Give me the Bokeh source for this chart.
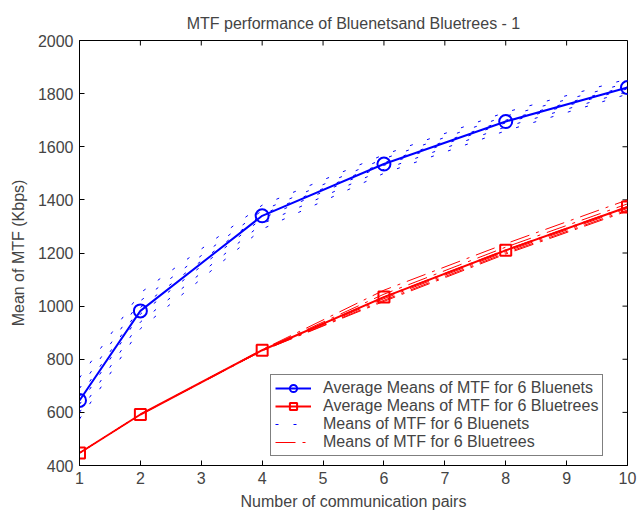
from bokeh.plotting import figure
from bokeh.models import Range1d, Legend, LegendItem, FixedTicker
from bokeh.embed import file_html
from bokeh.resources import INLINE

pairs = [1, 2, 4, 6, 8, 10]

avg_bluenets = [645, 982, 1340, 1535, 1695, 1823]
avg_bluetrees = [447, 592, 834, 1034, 1210, 1373]

bluenets_runs = [
    [730, 1050, 1380, 1570, 1730, 1855],
    [690, 1020, 1360, 1555, 1715, 1840],
    [660, 995, 1345, 1540, 1700, 1828],
    [630, 970, 1330, 1530, 1690, 1818],
    [600, 940, 1310, 1515, 1675, 1808],
    [575, 915, 1290, 1500, 1660, 1798],
]

bluetrees_runs = [
    [447, 592, 836, 1060, 1235, 1400],
    [447, 592, 835, 1045, 1222, 1385],
    [447, 592, 834, 1035, 1212, 1375],
    [447, 592, 833, 1028, 1205, 1368],
    [447, 592, 832, 1022, 1200, 1362],
    [447, 592, 832, 1018, 1196, 1358],
]

x_ticks = [1, 2, 3, 4, 5, 6, 7, 8, 9, 10]
y_ticks = [400, 600, 800, 1000, 1200, 1400, 1600, 1800, 2000]

FONT = "Liberation Sans"
FS = "16px"

x_min, x_max = x_ticks[0], x_ticks[-1]
y_min, y_max = y_ticks[0], y_ticks[-1]

p = figure(width=639, height=512, output_backend="svg", toolbar_location=None,
           x_range=Range1d(x_min, x_max), y_range=Range1d(y_min, y_max),
           min_border_left=79, min_border_right=12, min_border_top=40, min_border_bottom=47,
           title="MTF performance of Bluenetsand Bluetrees - 1")
p.title.text_font = FONT
p.title.text_font_size = FS
p.title.text_font_style = "normal"
p.title.align = "center"
p.title.vertical_align = "top"
p.title.standoff = 13
p.grid.visible = False
p.outline_line_color = "black"
p.outline_line_width = 1
p.background_fill_color = "white"
p.border_fill_color = "white"

for ax in (p.xaxis[0], p.yaxis[0]):
    ax.major_tick_in = 5
    ax.major_tick_out = 0
    ax.minor_tick_in = 0
    ax.minor_tick_out = 0
    ax.major_label_text_font = FONT
    ax.major_label_text_font_size = FS
    ax.axis_label_text_font = FONT
    ax.axis_label_text_font_size = FS
    ax.axis_label_text_font_style = "normal"
    ax.axis_line_color = "black"
    ax.major_label_standoff = 6
p.xaxis[0].ticker = FixedTicker(ticks=x_ticks)
p.yaxis[0].ticker = FixedTicker(ticks=y_ticks)
p.xaxis[0].axis_label = "Number of communication pairs"
p.yaxis[0].axis_label = "Mean of MTF (Kbps)"
p.xaxis[0].axis_label_standoff = 6
p.yaxis[0].axis_label_standoff = 8

# inward tick marks on the top and right edges of the box
p.ray(x=x_ticks, y=[y_max] * len(x_ticks), length=5, length_units="screen",
      angle=-90, angle_units="deg", line_color="black", line_width=1)
p.ray(x=[x_max] * len(y_ticks), y=y_ticks, length=5, length_units="screen",
      angle=180, angle_units="deg", line_color="black", line_width=1)

blue = "#0000FF"
red = "#FF0000"

blue_run_renderers = []
for run in bluenets_runs:
    r = p.line(pairs, run, line_color=blue, line_width=1, line_dash="3 15")
    blue_run_renderers.append(r)
red_run_renderers = []
for run in bluetrees_runs:
    r = p.line(pairs, run, line_color=red, line_width=1, line_dash="20 7 3 7")
    red_run_renderers.append(r)

bl = p.line(pairs, avg_bluenets, line_color=blue, line_width=2)
bm = p.scatter(pairs, avg_bluenets, marker="circle", size=13, fill_color=None,
               line_color=blue, line_width=2)
rl = p.line(pairs, avg_bluetrees, line_color=red, line_width=2)
rm = p.scatter(pairs, avg_bluetrees, marker="square", size=11, fill_color=None,
               line_color=red, line_width=2)

legend = Legend(items=[
    LegendItem(label="Average Means of MTF for 6 Bluenets", renderers=[bl, bm]),
    LegendItem(label="Average Means of MTF for 6 Bluetrees", renderers=[rl, rm]),
    LegendItem(label="Means of MTF for 6 Bluenets", renderers=[blue_run_renderers[0]]),
    LegendItem(label="Means of MTF for 6 Bluetrees", renderers=[red_run_renderers[0]]),
], location=(191, 9))
legend.margin = 0
legend.padding = 4
legend.spacing = 0
legend.glyph_width = 36
legend.glyph_height = 18
legend.label_height = 18
legend.label_standoff = 12
legend.label_text_font = FONT
legend.label_text_font_size = FS
legend.border_line_color = "black"
legend.border_line_width = 1
legend.background_fill_alpha = 1
p.add_layout(legend)

open("out.html", "w").write(file_html(p, INLINE))
